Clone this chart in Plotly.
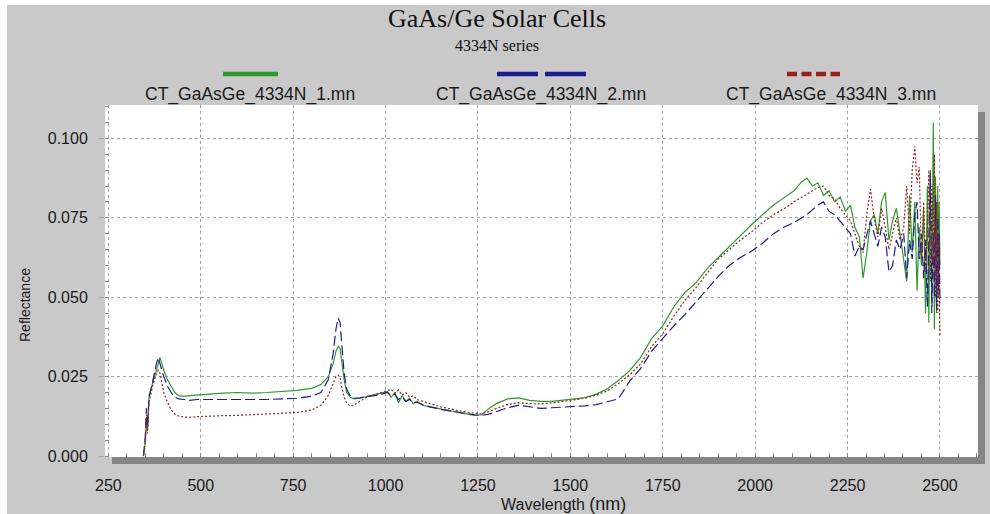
import plotly.graph_objects as go

# Wavelength grid (nm) shared by the three spectra
wavelength = [
    345, 350, 353, 356, 360, 365, 370, 375, 380, 385,
    390, 395, 400, 410, 420, 430, 440, 455, 470, 490,
    520, 560, 600, 640, 680, 720, 760, 800, 825, 845,
    858, 866, 872, 877, 882, 888, 895, 905, 915, 930,
    950, 970, 990, 1005, 1015, 1025, 1035, 1045, 1055, 1065,
    1075, 1085, 1100, 1120, 1150, 1180, 1210, 1240, 1260, 1280,
    1300, 1330, 1360, 1390, 1420, 1450, 1480, 1510, 1540, 1570,
    1600, 1630, 1660, 1690, 1720, 1750, 1780, 1810, 1840, 1870,
    1900, 1930, 1960, 1990, 2020, 2050, 2080, 2105, 2125, 2140,
    2155, 2170, 2185, 2200, 2215, 2230, 2245, 2258, 2270, 2282,
    2292, 2302, 2312, 2322, 2332, 2342, 2352, 2362, 2372, 2382,
    2392, 2402, 2410, 2418, 2425, 2432, 2438, 2444, 2450, 2456,
    2461, 2466, 2470, 2474, 2478, 2482, 2485, 2488, 2491, 2494,
    2496, 2498, 2500,
]

refl_1 = [
    0.000, 0.004, 0.012, 0.008, 0.019, 0.021, 0.023, 0.025, 0.027, 0.029,
    0.031, 0.029, 0.027, 0.024, 0.022, 0.020, 0.019, 0.0188, 0.0190, 0.0192,
    0.0195, 0.0198, 0.0200, 0.0198, 0.0200, 0.0203, 0.0207, 0.0213, 0.0225, 0.0250,
    0.029, 0.033, 0.0345, 0.034, 0.029, 0.024, 0.020, 0.0185, 0.0180, 0.0182,
    0.0188, 0.0192, 0.0198, 0.0203, 0.0185, 0.0200, 0.0168, 0.0190, 0.0172, 0.0182,
    0.0165, 0.0172, 0.0160, 0.0155, 0.0148, 0.0140, 0.0135, 0.0128, 0.0130, 0.0150,
    0.0165, 0.0180, 0.0183, 0.0175, 0.0172, 0.0172, 0.0176, 0.0180, 0.0184, 0.0195,
    0.0212, 0.0238, 0.0268, 0.0310, 0.0370, 0.0410, 0.0470, 0.0515, 0.0545, 0.0590,
    0.0625, 0.0660, 0.0695, 0.0728, 0.0760, 0.0790, 0.0815, 0.0835, 0.0862, 0.0875,
    0.0850, 0.0860, 0.0820, 0.0835, 0.0800, 0.0815, 0.0770, 0.0790, 0.0720, 0.0690,
    0.0560, 0.0640, 0.0740, 0.0760, 0.0700, 0.0800, 0.0830, 0.0680, 0.0740, 0.0780,
    0.0700, 0.0620, 0.0550, 0.0820, 0.0640, 0.0800, 0.0520, 0.0720, 0.0600, 0.0780,
    0.0450, 0.0850, 0.0420, 0.0900, 0.0480, 0.1050, 0.0400, 0.0880, 0.0450, 0.0850,
    0.0500, 0.0800, 0.0600,
]

refl_2 = [
    0.000, 0.006, 0.015, 0.009, 0.018, 0.021, 0.024, 0.026, 0.029, 0.031,
    0.029, 0.027, 0.025, 0.022, 0.020, 0.0185, 0.018, 0.0178, 0.0175, 0.0178,
    0.0178, 0.0176, 0.0178, 0.0177, 0.0178, 0.0180, 0.0182, 0.0188, 0.0200, 0.0240,
    0.0320, 0.0400, 0.0435, 0.0420, 0.0340, 0.0260, 0.0210, 0.0188, 0.0182, 0.0183,
    0.0188, 0.0190, 0.0195, 0.0200, 0.0190, 0.0195, 0.0178, 0.0186, 0.0172, 0.0178,
    0.0168, 0.0170, 0.0162, 0.0155, 0.0147, 0.0140, 0.0135, 0.0130, 0.0128, 0.0132,
    0.0140, 0.0152, 0.0160, 0.0155, 0.0150, 0.0152, 0.0154, 0.0155, 0.0158, 0.0162,
    0.0170, 0.0180, 0.0235, 0.0275, 0.0330, 0.0370, 0.0410, 0.0445, 0.0485, 0.0525,
    0.0565, 0.0600, 0.0625, 0.0645, 0.0670, 0.0700, 0.0722, 0.0735, 0.0750, 0.0760,
    0.0775, 0.0790, 0.0800, 0.0770, 0.0760, 0.0740, 0.0720, 0.0700, 0.0630, 0.0660,
    0.0650, 0.0700, 0.0740, 0.0700, 0.0660, 0.0720, 0.0690, 0.0580, 0.0600, 0.0680,
    0.0650, 0.0700, 0.0560, 0.0680, 0.0620, 0.0760, 0.0800, 0.0620, 0.0700, 0.0560,
    0.0680, 0.0470, 0.0750, 0.0890, 0.0450, 0.0700, 0.0500, 0.0820, 0.0460, 0.0750,
    0.0520, 0.0700, 0.0480,
]

refl_3 = [
    0.000, 0.005, 0.013, 0.007, 0.017, 0.020, 0.022, 0.024, 0.026, 0.027,
    0.026, 0.023, 0.020, 0.017, 0.0145, 0.0132, 0.0126, 0.0123, 0.0122, 0.0124,
    0.0126, 0.0127, 0.0128, 0.0130, 0.0131, 0.0133, 0.0137, 0.0145, 0.0160, 0.0190,
    0.0225, 0.0250, 0.0255, 0.0245, 0.0215, 0.0185, 0.0165, 0.0157, 0.0160, 0.0172,
    0.0185, 0.0192, 0.0200, 0.0205, 0.0210, 0.0198, 0.0208, 0.0192, 0.0200, 0.0185,
    0.0190, 0.0178, 0.0172, 0.0165, 0.0155, 0.0147, 0.0140, 0.0135, 0.0133, 0.0140,
    0.0150, 0.0162, 0.0168, 0.0165, 0.0164, 0.0167, 0.0172, 0.0176, 0.0182, 0.0192,
    0.0205, 0.0228, 0.0255, 0.0290, 0.0345, 0.0385, 0.0440, 0.0490, 0.0530, 0.0575,
    0.0620, 0.0650, 0.0680, 0.0705, 0.0735, 0.0760, 0.0780, 0.0800, 0.0815, 0.0825,
    0.0835, 0.0845, 0.0850, 0.0820, 0.0810, 0.0780, 0.0760, 0.0740, 0.0700, 0.0660,
    0.0640, 0.0760, 0.0840, 0.0750, 0.0690, 0.0780, 0.0720, 0.0650, 0.0700, 0.0750,
    0.0680, 0.0720, 0.0850, 0.0700, 0.0900, 0.0975, 0.0860, 0.0910, 0.0620, 0.0800,
    0.0580, 0.0700, 0.0900, 0.0550, 0.0850, 0.0600, 0.0950, 0.0500, 0.0800, 0.0450,
    0.0700, 0.0500, 0.0375,
]

series_names = ["CT_GaAsGe_4334N_1.mn", "CT_GaAsGe_4334N_2.mn", "CT_GaAsGe_4334N_3.mn"]
series_values = [refl_1, refl_2, refl_3]
series_colors = ["#2e9a2e", "#1c1c8e", "#9a1f1f"]
series_dash = ["solid", "10px,4px", "2px,2px"]

x_ticks = [250, 500, 750, 1000, 1250, 1500, 1750, 2000, 2250, 2500]
y_ticks = [0.000, 0.025, 0.050, 0.075, 0.100]

# figure geometry (pixels)
W, H = 990, 514
L, R, T, B = 105, 12, 105, 57
PW, PH = W - L - R, H - T - B


def px(x):
    return (x - L) / PW


def py(y):
    return (H - B - y) / PH


fig = go.Figure()
for name, vals, col, dash in zip(series_names, series_values, series_colors, series_dash):
    fig.add_trace(go.Scatter(
        x=wavelength, y=vals, mode="lines", name=name,
        line=dict(color=col, width=1.2, dash=dash),
        showlegend=False,
    ))

shapes = [
    # panel background
    dict(type="rect", xref="paper", yref="paper", layer="below",
         x0=px(7), x1=px(W + 5), y0=py(H + 5), y1=py(5),
         fillcolor="#c9c9c9", line=dict(width=0)),
    # drop shadow of the plot frame
    dict(type="rect", xref="paper", yref="paper", layer="below",
         x0=px(L + 7), x1=px(L + PW + 7), y0=py(H - B + 7), y1=py(T + 7),
         fillcolor="#858585", line=dict(width=0)),
    # white plotting area
    dict(type="rect", xref="paper", yref="paper", layer="below",
         x0=0, x1=1, y0=0, y1=1,
         fillcolor="white", line=dict(width=0)),
]

# legend swatches drawn above the labels
legend_swatches = [(223, 278, "solid"), (497, 587, "41px,7px"), (787, 840, "10px,4.5px")]
legend_text_x = [250, 541, 831]
annotations = []
for (x0, x1, dash), tx, col, name in zip(legend_swatches, legend_text_x, series_colors, series_names):
    shapes.append(dict(type="line", xref="paper", yref="paper",
                       x0=px(x0), x1=px(x1), y0=py(74), y1=py(74),
                       line=dict(color=col, width=4.5, dash=dash)))
    annotations.append(dict(text=name, xref="paper", yref="paper",
                            x=px(tx), y=py(94), showarrow=False,
                            xanchor="center", yanchor="middle",
                            font=dict(family="Liberation Sans", size=17.5, color="#1a1a1a")))

annotations += [
    dict(text="GaAs/Ge Solar Cells", xref="paper", yref="paper",
         x=px(497), y=py(19), showarrow=False, xanchor="center", yanchor="middle",
         font=dict(family="Liberation Serif", size=26, color="#111111")),
    dict(text="4334N series", xref="paper", yref="paper",
         x=px(497), y=py(45), showarrow=False, xanchor="center", yanchor="middle",
         font=dict(family="Liberation Serif", size=16, color="#111111")),
    dict(text="Wavelength <span style='font-size:18px'>(nm)</span>", xref="paper", yref="paper",
         x=px(563), y=py(504), showarrow=False, xanchor="center", yanchor="middle",
         font=dict(family="Liberation Sans", size=16, color="#1a1a1a")),
    dict(text="Reflectance", xref="paper", yref="paper", textangle=-90,
         x=px(25), y=py(305), showarrow=False, xanchor="center", yanchor="middle",
         font=dict(family="Liberation Sans", size=14, color="#1a1a1a")),
]

grid_col = "#a6a6a6"
fig.update_layout(
    width=W, height=H,
    margin=dict(l=L, r=R, t=T, b=B, pad=0),
    paper_bgcolor="white", plot_bgcolor="rgba(0,0,0,0)",
    shapes=shapes, annotations=annotations,
    showlegend=False,
    xaxis=dict(
        range=[241, 2603], tickvals=x_ticks, ticktext=[str(v) for v in x_ticks],
        showgrid=True, gridcolor=grid_col, griddash="dot", gridwidth=1,
        zeroline=False, showline=False,
        ticks="", ticklabelstandoff=17,
        tickfont=dict(family="Liberation Sans", size=16, color="#1a1a1a"),
        minor=dict(dtick=50, tick0=250, ticks="inside", ticklen=4,
                   tickcolor="#8c8c8c", showgrid=False),
    ),
    yaxis=dict(
        range=[-0.0003, 0.1105], tickvals=y_ticks, tickformat=".3f",
        showgrid=True, gridcolor=grid_col, griddash="dot", gridwidth=1,
        zeroline=False, showline=False,
        ticks="outside", ticklen=5, tickcolor=grid_col, ticklabelstandoff=8,
        tickfont=dict(family="Liberation Sans", size=16, color="#1a1a1a"),
        minor=dict(dtick=0.005, tick0=0, ticks="inside", ticklen=4,
                   tickcolor="#8c8c8c", showgrid=False),
    ),
)

fig.write_html("out.html")
